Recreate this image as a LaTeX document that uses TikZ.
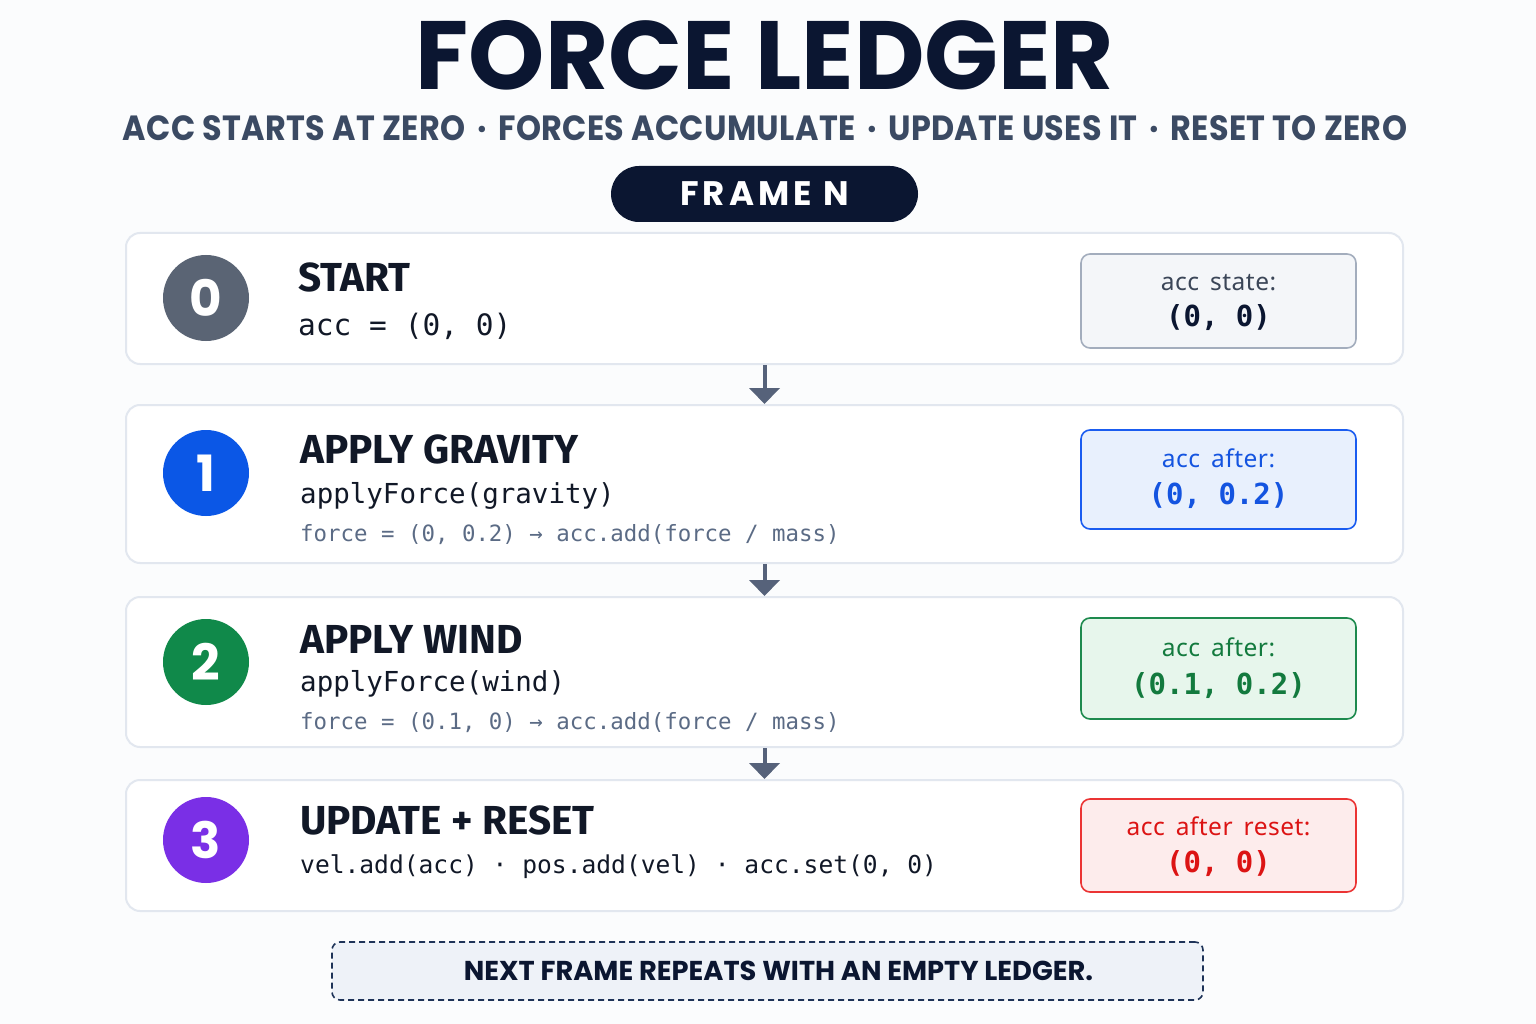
\documentclass[tikz,border=0pt]{standalone}
\usepackage{fontspec}
\usetikzlibrary{arrows.meta}
\setmainfont{Noto Sans}
\newfontfamily\pop{Poppins}
\newfontfamily\popsub{Poppins}[FakeStretch=0.91,LetterSpace=1]
\newfontfamily\headf{Fira Sans}
\newfontfamily\monof{DejaVu Sans Mono}
\newfontfamily\lblf{Noto Sans}[LetterSpace=2,WordSpace=1.6]
\definecolor{pagebg}{HTML}{FBFCFD}
\definecolor{navy}{HTML}{0B1631}
\definecolor{slate}{HTML}{3B4A63}
\definecolor{cardline}{HTML}{E2E7EF}
\definecolor{ink}{HTML}{111827}
\definecolor{codegray}{HTML}{5B6B85}
\definecolor{arrowc}{HTML}{56627A}
\definecolor{gzero}{HTML}{5A6474}
\definecolor{bone}{HTML}{0B57E6}
\definecolor{gtwo}{HTML}{10894A}
\definecolor{pthree}{HTML}{7A2FE6}
\definecolor{grayfill}{HTML}{F4F6F9}
\definecolor{grayline}{HTML}{A3ADBD}
\definecolor{graytext}{HTML}{3B4658}
\definecolor{bluefill}{HTML}{E8F0FD}
\definecolor{blueline}{HTML}{1A5CF0}
\definecolor{bluetext}{HTML}{1454E0}
\definecolor{greenfill}{HTML}{E7F6EC}
\definecolor{greenline}{HTML}{1E8A4E}
\definecolor{greentext}{HTML}{137A3E}
\definecolor{redfill}{HTML}{FDECEC}
\definecolor{redline}{HTML}{EB3434}
\definecolor{redtext}{HTML}{DC1414}
\definecolor{dashfill}{HTML}{EEF2F8}
\definecolor{dashline}{HTML}{1E3358}
\tikzset{
  card/.style={draw=cardline, line width=2pt, fill=white, rounded corners=14pt, minimum width=1277pt, inner sep=0pt},
  stepnum/.style={circle, minimum size=86pt, inner sep=0pt, text=white, font=\pop\bfseries\fontsize{50}{50}\selectfont},
  headtxt/.style={anchor=base west, inner sep=0pt, text=ink, font=\headf\bfseries\fontsize{40.5}{40.5}\selectfont},
  codetxt/.style={anchor=base west, inner sep=0pt, text=ink, font=\monof\fontsize{27.5}{27.5}\selectfont},
  smallcode/.style={anchor=base west, inner sep=0pt, text=codegray, font=\monof\fontsize{22.4}{22.4}\selectfont},
  statebox/.style={line width=1.6pt, rounded corners=9pt, minimum width=275pt, inner sep=0pt},
  statelbl/.style={inner sep=0pt, font=\lblf\fontsize{24.5}{24.5}\selectfont},
  stateval/.style={inner sep=0pt, font=\monof\bfseries\fontsize{29}{29}\selectfont},
  flowarrow/.style={draw=arrowc, line width=4pt, -{Triangle[width=30pt,length=16pt]}}
}
\begin{document}
\begin{tikzpicture}[x=1pt,y=-1pt]
\fill[pagebg] (0,0) rectangle (1536,1024);
\useasboundingbox (0,0) rectangle (1536,1024);

% title
\node[inner sep=0pt, text=navy, font=\pop\bfseries\fontsize{97}{97}\selectfont] (title) at (765,55) {FORCE LEDGER};
\node[inner sep=0pt, text=slate, font=\popsub\bfseries\fontsize{35}{35}\selectfont] (subtitle) at (765,128) {ACC STARTS AT ZERO\,\,·\,\,FORCES ACCUMULATE\,\,·\,\,UPDATE USES IT\,\,·\,\,RESET TO ZERO};
\node[fill=navy, rounded corners=28pt, minimum width=307pt, minimum height=56pt, inner sep=0pt] (frame) at (764.5,194) {};
\node[inner sep=0pt, text=white, font=\pop\bfseries\fontsize{34}{34}\selectfont\addfontfeatures{LetterSpace=12}] (frametxt) at (frame.center) {FRAME N};

% cards
\node[card, minimum height=131pt] (c0) at (764.5,298.5) {};
\node[card, minimum height=158pt] (c1) at (764.5,484) {};
\node[card, minimum height=150pt] (c2) at (764.5,672) {};
\node[card, minimum height=131pt] (c3) at (764.5,845.5) {};

% arrows
\draw[flowarrow] (c0.south) -- (c1.north);
\draw[flowarrow] (c1.south) -- (c2.north);
\draw[flowarrow] (c2.south) -- (c3.north);

% step 0
\node[stepnum, fill=gzero] (n0) at (206,298) {0};
\node[headtxt] (h0) at (298,291) {START};
\node[codetxt, font=\monof\fontsize{29.5}{29.5}\selectfont] (k0) at (298,335) {acc = (0, 0)};
\node[statebox, draw=grayline, fill=grayfill, minimum height=94pt] (b0) at (1218.5,301) {};
\node[statelbl, text=graytext] (l0) at (1218.5,283) {acc state:};
\node[stateval, text=navy] (v0) at (1218.5,318) {(0, 0)};

% step 1
\node[stepnum, fill=bone] (n1) at (206,473) {1};
\node[headtxt] (h1) at (300,463) {APPLY GRAVITY};
\node[codetxt] (k1) at (300,503) {applyForce(gravity)};
\node[smallcode] (f1) at (300,541) {force = (0, 0.2) → acc.add(force / mass)};
\node[statebox, draw=blueline, fill=bluefill, minimum height=99pt] (b1) at (1218.5,479.5) {};
\node[statelbl, text=bluetext] (l1) at (1218.5,458) {acc after:};
\node[stateval, text=bluetext] (v1) at (1218.5,496) {(0, 0.2)};

% step 2
\node[stepnum, fill=gtwo] (n2) at (206,662) {2};
\node[headtxt] (h2) at (300,653) {APPLY WIND};
\node[codetxt] (k2) at (300,691) {applyForce(wind)};
\node[smallcode] (f2) at (300,729) {force = (0.1, 0) → acc.add(force / mass)};
\node[statebox, draw=greenline, fill=greenfill, minimum height=101pt] (b2) at (1218.5,668.5) {};
\node[statelbl, text=greentext] (l2) at (1218.5,647) {acc after:};
\node[stateval, text=greentext] (v2) at (1218.5,686) {(0.1, 0.2)};

% step 3
\node[stepnum, fill=pthree] (n3) at (206,840) {3};
\node[headtxt] (h3) at (300,834) {UPDATE + RESET};
\node[codetxt, font=\monof\fontsize{24.6}{24.6}\selectfont] (k3) at (300,873) {vel.add(acc) · pos.add(vel) · acc.set(0, 0)};
\node[statebox, draw=redline, fill=redfill, minimum height=93pt] (b3) at (1218.5,845.5) {};
\node[statelbl, text=redtext] (l3) at (1218.5,826) {acc after reset:};
\node[stateval, text=redtext] (v3) at (1218.5,864) {(0, 0)};

% footer
\node[draw=dashline, line width=1.6pt, dash pattern=on 6pt off 4pt, fill=dashfill, rounded corners=8pt, minimum width=871pt, minimum height=58pt, inner sep=0pt] (next) at (767.5,971) {};
\node[inner sep=0pt, text=navy, font=\pop\bfseries\fontsize{27.3}{27.3}\selectfont] (nexttxt) at ([xshift=11pt]next.center) {NEXT FRAME REPEATS WITH AN EMPTY LEDGER.};
\end{tikzpicture}
\end{document}
